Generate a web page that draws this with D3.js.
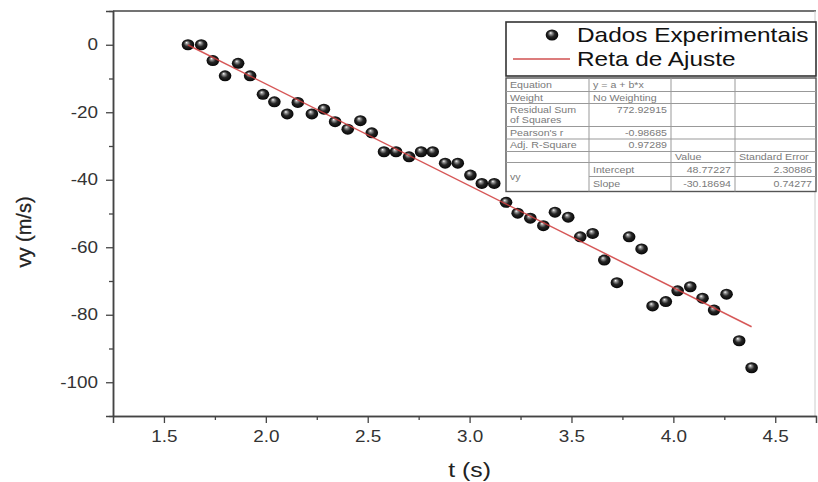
<!DOCTYPE html>
<html>
<head>
<meta charset="utf-8">
<script src="https://cdn.jsdelivr.net/npm/d3@7"></script>
<style>
  body { margin: 0; background: #fff; }
  svg { display: block; font-family: "Liberation Sans", Arial, sans-serif; }
</style>
</head>
<body>
<svg width="818" height="482"></svg>
<script>
// data
var tValues = [1.618, 1.683, 1.740, 1.800, 1.864, 1.923, 1.986, 2.042, 2.105, 2.157,
    2.226, 2.285, 2.340, 2.402, 2.464, 2.520, 2.580, 2.639, 2.703, 2.762,
    2.819, 2.880, 2.942, 3.004, 3.060, 3.121, 3.179, 3.236, 3.298, 3.362,
    3.419, 3.484, 3.543, 3.604, 3.661, 3.723, 3.783, 3.844, 3.898, 3.963,
    4.021, 4.083, 4.143, 4.200, 4.261, 4.323, 4.384];
var vyValues = [0, 0, -4.7, -9.2, -5.5, -9.2, -14.7, -16.9, -20.5, -17.1,
    -20.5, -19.1, -22.8, -25.0, -22.5, -26.1, -31.7, -31.7, -33.2, -31.7,
    -31.7, -35.1, -35.1, -38.6, -41.1, -41.1, -46.7, -49.9, -51.4, -53.6,
    -49.6, -51.1, -56.9, -55.9, -63.8, -70.5, -56.9, -60.5, -77.4, -76.1,
    -72.9, -71.7, -75.1, -78.6, -73.9, -87.7, -95.7];

// linear fit y = a + b*x
var fitIntercept = 48.77227;
var fitSlope = -30.18694;

var xTicks = [1.5, 2.0, 2.5, 3.0, 3.5, 4.0, 4.5];
var yTicks = [0, -20, -40, -60, -80, -100];

var legendLabels = ["Dados Experimentais", "Reta de Ajuste"];

// fit table cells
var tableRows = [
    ["Equation", "y = a + b*x", "", ""],
    ["Weight", "No Weighting", "", ""],
    ["Residual Sum|of Squares", "772.92915", "", ""],
    ["Pearson's r", "-0.98685", "", ""],
    ["Adj. R-Square", "0.97289", "", ""],
    ["", "", "Value", "Standard Error"],
    ["vy", "Intercept", "48.77227", "2.30886"],
    ["", "Slope", "-30.18694", "0.74277"]
];

var svg = d3.select("svg");
var stretch = 1.18; // the picture is a bit wider than tall

var x = d3.scaleLinear().domain([1.25, 4.7]).range([113, 816]);
var y = d3.scaleLinear().domain([-110, 10]).range([416, 11]);

var defs = svg.append("defs");
var grad = defs.append("radialGradient")
    .attr("id", "ball")
    .attr("cx", "0.5").attr("cy", "0.5").attr("r", "0.55")
    .attr("fx", "0.38").attr("fy", "0.3");
grad.append("stop").attr("offset", "0%").attr("stop-color", "#ffffff");
grad.append("stop").attr("offset", "18%").attr("stop-color", "#9a9a9a");
grad.append("stop").attr("offset", "50%").attr("stop-color", "#262626");
grad.append("stop").attr("offset", "100%").attr("stop-color", "#000000");

// frame (top and right)
svg.append("line")
    .attr("x1", x(1.25)).attr("x2", x(4.7))
    .attr("y1", y(10)).attr("y2", y(10))
    .attr("stroke", "#444").attr("stroke-width", 1.5);
svg.append("line")
    .attr("x1", x(4.7) - 1).attr("x2", x(4.7) - 1)
    .attr("y1", y(10)).attr("y2", y(-110))
    .attr("stroke", "#ccc").attr("stroke-width", 1);

// x axis
svg.append("g")
    .attr("transform", "translate(0," + y(-110) + ")")
    .call(d3.axisBottom(x).tickValues(xTicks).tickFormat(function (d) { return d.toFixed(1); })
        .tickSize(7).tickPadding(8));
svg.append("g")
    .attr("transform", "translate(0," + y(-110) + ")")
    .call(d3.axisBottom(x).tickValues(d3.range(1.75, 4.7, 0.5)).tickFormat("")
        .tickSize(4).tickSizeOuter(0));

// y axis
svg.append("g")
    .attr("transform", "translate(" + x(1.25) + ",0)")
    .call(d3.axisLeft(y).tickValues(yTicks).tickFormat(function (d) { return String(d); })
        .tickSize(7).tickPadding(8));
svg.append("g")
    .attr("transform", "translate(" + x(1.25) + ",0)")
    .call(d3.axisLeft(y).tickValues(d3.range(-110, 11, 20)).tickFormat("")
        .tickSize(4).tickSizeOuter(0));

svg.selectAll(".domain").attr("stroke", "#444").attr("stroke-width", 1.5);
svg.selectAll(".tick line").attr("stroke", "#444").attr("stroke-width", 1.3);
svg.selectAll(".tick text")
    .attr("fill", "#333")
    .style("font-size", "16px")
    .style("font-family", "'Liberation Sans', Arial, sans-serif");

// axis titles
svg.append("text")
    .attr("class", "wide")
    .attr("x", x(3.0))
    .attr("y", 477)
    .attr("text-anchor", "middle")
    .attr("fill", "#222")
    .style("font-size", "21px")
    .text("t (s)");
svg.append("text")
    .attr("transform", "translate(31,232) rotate(-90)")
    .attr("text-anchor", "middle")
    .attr("fill", "#222")
    .style("font-size", "20px")
    .style("stroke", "#222").style("stroke-width", 0.3)
    .text("vy (m/s)");

// points
var points = tValues.map(function (t, i) { return { t: t, v: vyValues[i] }; });
svg.append("g")
    .selectAll("ellipse")
    .data(points)
    .enter()
    .append("ellipse")
    .attr("cx", function (d) { return x(d.t); })
    .attr("cy", function (d) { return y(d.v); })
    .attr("rx", 6.3)
    .attr("ry", 5.5)
    .attr("fill", "url(#ball)");

// fit line over the points
var tMin = d3.min(tValues), tMax = d3.max(tValues);
svg.append("line")
    .attr("x1", x(tMin)).attr("y1", y(fitIntercept + fitSlope * tMin))
    .attr("x2", x(tMax)).attr("y2", y(fitIntercept + fitSlope * tMax))
    .attr("stroke", "#cf3b3b")
    .attr("stroke-opacity", 0.85)
    .attr("stroke-width", 1.5);

// legend
var legend = svg.append("g");
legend.append("rect")
    .attr("x", 506).attr("y", 22).attr("width", 310).attr("height", 54)
    .attr("fill", "#fff").attr("stroke", "#333").attr("stroke-width", 1.6);
legend.append("ellipse")
    .attr("cx", 552).attr("cy", 35).attr("rx", 6.3).attr("ry", 5.5)
    .attr("fill", "url(#ball)");
legend.append("line")
    .attr("x1", 513).attr("x2", 570).attr("y1", 59).attr("y2", 59)
    .attr("stroke", "#d05050").attr("stroke-width", 1.5);
legend.selectAll("text.leg")
    .data(legendLabels)
    .enter()
    .append("text")
    .attr("class", "leg")
    .attr("x", 577)
    .attr("y", function (d, i) { return 42 + i * 24; })
    .attr("fill", "#111")
    .style("font-size", "21px")
    .text(function (d) { return d; });

// fit table
var colX = [506, 589, 671, 735, 816];
var rowY = [78, 91.5, 103.5, 126.5, 139, 151.5, 162.5, 176.5, 191.5];
var table = svg.append("g");
table.append("rect")
    .attr("x", colX[0]).attr("y", rowY[0])
    .attr("width", colX[4] - colX[0]).attr("height", rowY[8] - rowY[0])
    .attr("fill", "#fff").attr("stroke", "#555").attr("stroke-width", 1.4);
// row lines (column 1 merged for the last two rows)
rowY.slice(1, 8).forEach(function (ry, i) {
    table.append("line")
        .attr("x1", i == 6 ? colX[1] : colX[0]).attr("x2", colX[4])
        .attr("y1", ry).attr("y2", ry)
        .attr("stroke", "#999").attr("stroke-width", 1);
});
colX.slice(1, 4).forEach(function (cx) {
    table.append("line")
        .attr("x1", cx).attr("x2", cx)
        .attr("y1", rowY[0]).attr("y2", rowY[8])
        .attr("stroke", "#999").attr("stroke-width", 1);
});

tableRows.forEach(function (row, r) {
    row.forEach(function (cell, c) {
        if (cell == "") return;
        var numeric = /^-?[0-9.]+$/.test(cell);
        var top = rowY[r], bottom = rowY[r + 1];
        if (r == 6 && c == 0) bottom = rowY[8];
        cell.split("|").forEach(function (ln, k) {
            table.append("text")
                .attr("class", "wide")
                .attr("fill", "#7a7a7a")
                .style("font-size", "9px")
                .attr("text-anchor", numeric ? "end" : "start")
                .attr("x", numeric ? colX[c + 1] - 4 : colX[c] + 4)
                .attr("y", (r == 2 ? top + 9.5 + k * 10 : (top + bottom) / 2 + 3.2))
                .text(ln);
        });
    });
});

// widen horizontal texts to match the stretched picture
function widen(sel, k) {
    sel.each(function () {
        var len = this.getComputedTextLength();
        if (len > 0) {
            d3.select(this)
                .attr("textLength", len * k)
                .attr("lengthAdjust", "spacingAndGlyphs");
        }
    });
}
widen(svg.selectAll(".tick text, text.wide"), stretch);
widen(svg.selectAll("text.leg"), 1.16);
</script>
</body>
</html>
